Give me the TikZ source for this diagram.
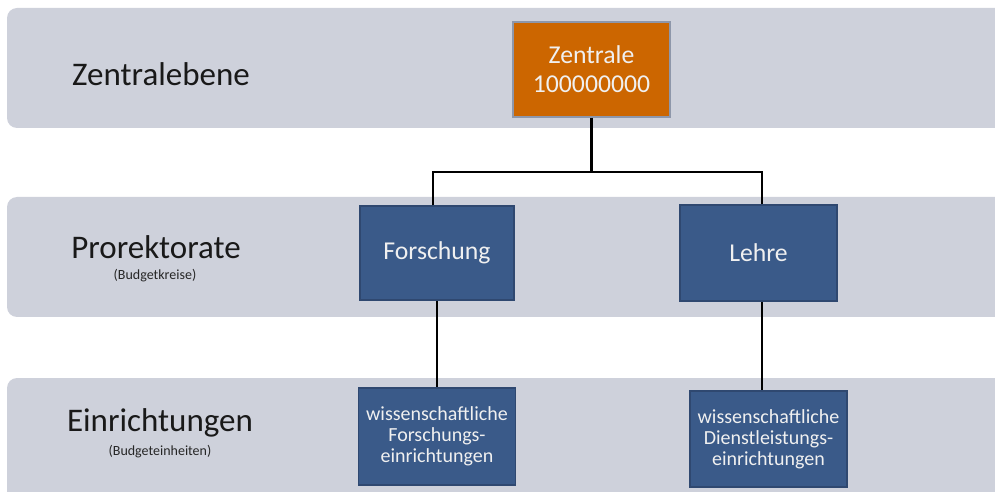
\documentclass[tikz,border=0pt]{standalone}
\usepackage{fontspec}
\setmainfont{Carlito}
\begin{document}
\begin{tikzpicture}[x=1bp,y=-1bp,
  band/.style={fill=bandgray,draw=none,rounded corners=10bp},
  lvl/.style={font=\fontsize{33bp}{38bp}\selectfont,text=black!90,inner sep=0},
  sub/.style={font=\fontsize{14bp}{16bp}\selectfont,text=black!85,inner sep=0},
  bluebox/.style={fill=boxblue,draw=boxedge,line width=1.2bp,text=white!94!black,align=center,inner sep=0,
    font=\fontsize{25.7bp}{29bp}\selectfont},
  smallbox/.style={bluebox,font=\fontsize{20bp}{21bp}\selectfont},
  conn/.style={draw=black,line width=2.6bp}]
\definecolor{bandgray}{HTML}{CED1DB}
\definecolor{boxblue}{HTML}{3A5A89}
\definecolor{boxedge}{HTML}{2F4870}
\definecolor{orange}{HTML}{CC6600}
\definecolor{orangeedge}{HTML}{8E97AA}
\useasboundingbox (0,0) rectangle (995,492);
\begin{scope}
\clip (0,0) rectangle (995,492);
\fill[band] (7,8) rectangle (1010,128);
\fill[band] (7,197) rectangle (1010,317);
\fill[band] (7,378) rectangle (1010,510);
\end{scope}
\node[lvl] (l1) at (161,74) {Zentralebene};
\node[lvl] (l2) at (156,247) {Prorektorate};
\node[sub] (s2) at (155,276) {(Budgetkreise)};
\node[lvl] (l3) at (160,423) {Einrichtungen};
\node[sub] (s3) at (160,452) {(Budgeteinheiten)};
\node[bluebox,fill=orange,draw=orangeedge,minimum width=157bp,minimum height=95bp] (zentrale) at (591.5,69.5) {Zentrale\\100000000};
\node[bluebox,minimum width=154bp,minimum height=94bp] (forsch) at (437,253) {Forschung};
\node[bluebox,minimum width=157bp,minimum height=96bp] (lehre) at (758.5,253) {Lehre};
\node[smallbox,minimum width=157bp,minimum height=97bp] (forsche) at (437,436.5) {wissenschaftliche\\Forschungs-\\einrichtungen};
\node[smallbox,minimum width=157bp,minimum height=96bp] (diene) at (768.5,439) {wissenschaftliche\\Dienstleistungs-\\einrichtungen};
\coordinate (j) at (591.5,172);
\draw[conn] (zentrale.south) -- (j);
\draw[conn] ([xshift=-4bp]forsch.north) |- (j) -| ([xshift=3.5bp]lehre.north);
\draw[conn] (forsch.south) -- (forsche.north);
\draw[conn] ([xshift=3.5bp]lehre.south) -- ([xshift=3.5bp]lehre.south |- diene.north);
\end{tikzpicture}
\end{document}
